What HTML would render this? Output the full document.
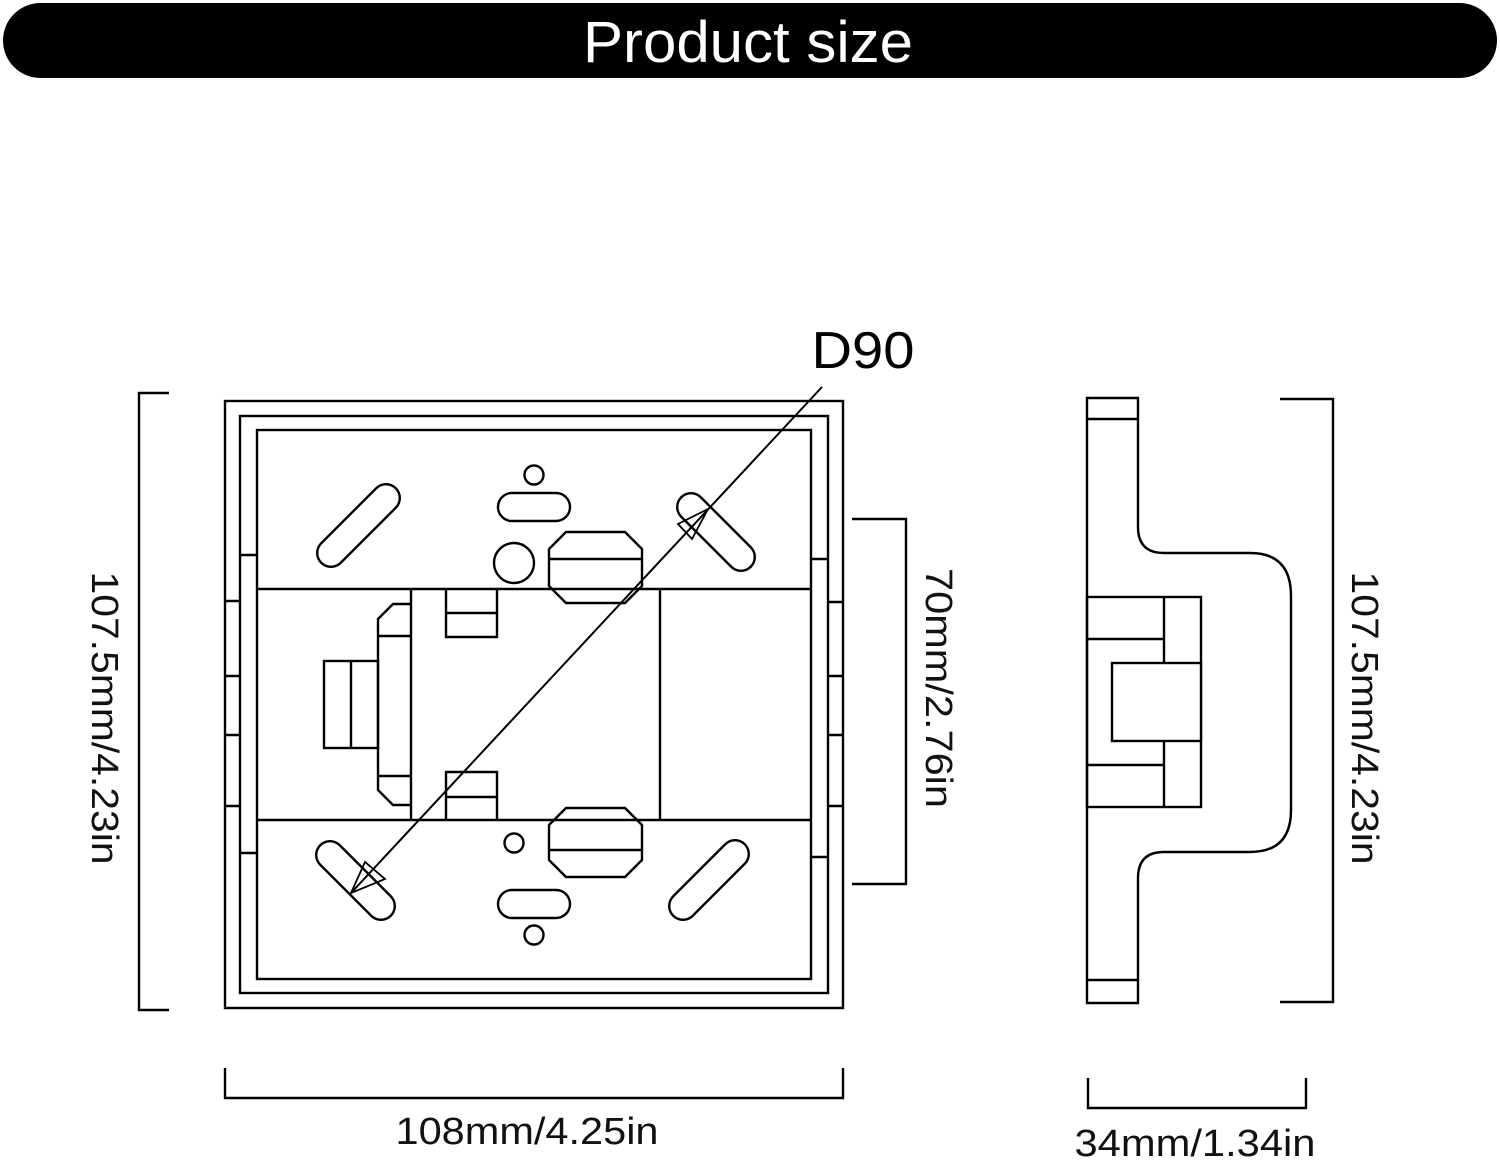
<!DOCTYPE html>
<html><head><meta charset="utf-8"><style>
html,body{margin:0;padding:0;background:#fff;width:1500px;height:1165px;overflow:hidden}
svg{display:block}
text{font-family:"Liberation Sans","DejaVu Sans",sans-serif}
</style></head><body>
<svg width="1500" height="1165" viewBox="0 0 1500 1165" xmlns="http://www.w3.org/2000/svg">
<rect x="3" y="3" width="1494" height="75" rx="37.5" fill="#000"/>
<text x="748" y="62" font-size="58" fill="#fff" text-anchor="middle" textLength="330" lengthAdjust="spacingAndGlyphs">Product size</text>
<g fill="none" stroke="#000" stroke-width="2.4">
<rect x="225" y="401" width="618" height="607"/>
<rect x="240" y="416" width="588" height="577"/>
<rect x="257" y="430" width="554" height="549"/>
<line x1="257" y1="589" x2="811" y2="589"/>
<line x1="257" y1="820" x2="811" y2="820"/>
<path d="M240 555H257M240 853H257M225 601H240M225 676H240M225 735H240M225 806H240"/>
<path d="M811 559H828M811 857H828M828 602H843M828 676H843M828 735H843M828 806H843"/>
<line x1="411" y1="589" x2="411" y2="820"/>
<line x1="660" y1="589" x2="660" y2="820"/>
<path d="M411 604H393L378 619V790L393 805H411M378 636H411M378 776H411"/>
<rect x="324" y="661" width="54" height="87"/>
<line x1="351" y1="661" x2="351" y2="748"/>
<path d="M446 589V637H497V589M446 613H497"/>
<path d="M446 820V772H497V820M446 797H497"/>
<path d="M566 532H625L642 549V586L625 603H566L549 586V549ZM549 559H642"/>
<path d="M566 808H625L642 825V860L625 877H566L549 860V825ZM549 850H642"/>
<circle cx="534" cy="475" r="9.5"/>
<rect x="498" y="493" width="72" height="28" rx="14"/>
<circle cx="514" cy="563" r="20"/>
<circle cx="514" cy="843" r="9.5"/>
<rect x="498" y="890" width="72" height="28" rx="14"/>
<circle cx="534" cy="935" r="9.5"/>
<line x1="331" y1="553" x2="386" y2="498" stroke-width="30" stroke-linecap="round" stroke="#000"/>
<line x1="331" y1="553" x2="386" y2="498" stroke-width="25.2" stroke-linecap="round" stroke="#fff"/>
<line x1="691" y1="507" x2="741" y2="557" stroke-width="30" stroke-linecap="round" stroke="#000"/>
<line x1="691" y1="507" x2="741" y2="557" stroke-width="25.2" stroke-linecap="round" stroke="#fff"/>
<line x1="330" y1="855" x2="381" y2="906" stroke-width="30" stroke-linecap="round" stroke="#000"/>
<line x1="330" y1="855" x2="381" y2="906" stroke-width="25.2" stroke-linecap="round" stroke="#fff"/>
<line x1="683" y1="906" x2="735" y2="854" stroke-width="30" stroke-linecap="round" stroke="#000"/>
<line x1="683" y1="906" x2="735" y2="854" stroke-width="25.2" stroke-linecap="round" stroke="#fff"/>
<line x1="822" y1="387" x2="351" y2="893" stroke-width="2"/>
<path d="M708 509L678 524L692 539Z" stroke-width="1.8"/>
<path d="M351 893L365 862L385 879Z" stroke-width="1.8"/>
<path d="M1087 398V1003H1138V878Q1138 852 1164 852H1250Q1291 852 1291 810V596Q1291 553 1250 553H1164Q1138 553 1138 527V398Z"/>
<line x1="1087" y1="419" x2="1138" y2="419"/>
<line x1="1087" y1="980" x2="1138" y2="980"/>
<rect x="1087" y="597" width="114" height="210"/>
<line x1="1164" y1="597" x2="1164" y2="807"/>
<line x1="1087" y1="639" x2="1164" y2="639"/>
<line x1="1087" y1="765" x2="1164" y2="765"/>
<rect x="1112" y="663" width="89" height="78" fill="#fff"/>
<path d="M169 393H139V1010H169"/>
<path d="M852 519H906V884H852"/>
<path d="M1280 399H1333V1002H1280"/>
<path d="M225 1068V1098H843V1068"/>
<path d="M1088 1078V1108H1306V1078"/>
</g>
<text x="863" y="368" font-size="52" text-anchor="middle" textLength="103" lengthAdjust="spacingAndGlyphs">D90</text>
<text transform="translate(92,718) rotate(90)" font-size="38" fill="#111" text-anchor="middle" textLength="293" lengthAdjust="spacingAndGlyphs">107.5mm/4.23in</text>
<text transform="translate(926,688) rotate(90)" font-size="38" fill="#111" text-anchor="middle" textLength="240" lengthAdjust="spacingAndGlyphs">70mm/2.76in</text>
<text transform="translate(1352,718) rotate(90)" font-size="38" fill="#111" text-anchor="middle" textLength="293" lengthAdjust="spacingAndGlyphs">107.5mm/4.23in</text>
<text x="527" y="1144" font-size="38" fill="#111" text-anchor="middle" textLength="263" lengthAdjust="spacingAndGlyphs">108mm/4.25in</text>
<text x="1195" y="1156" font-size="38" fill="#111" text-anchor="middle" textLength="241" lengthAdjust="spacingAndGlyphs">34mm/1.34in</text>
</svg>
</body></html>
